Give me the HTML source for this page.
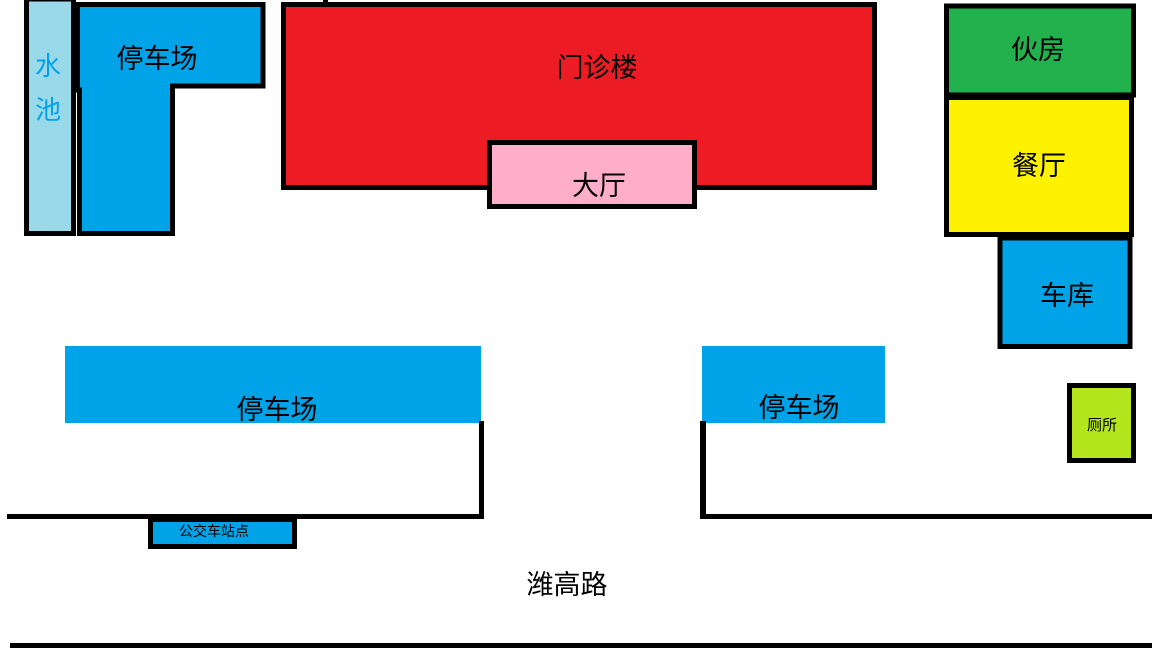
<!DOCTYPE html>
<html><head><meta charset="utf-8"><style>
html,body{margin:0;padding:0;background:#fff;}
svg{display:block;}
text{font-family:"Liberation Sans","Noto Sans CJK SC",sans-serif;fill:#000;}
</style></head><body>
<svg width="1152" height="648" viewBox="0 0 1152 648" xmlns="http://www.w3.org/2000/svg">
<rect width="1152" height="648" fill="#fff"/>
<rect x="26.5" y="-1" width="47" height="234.5" fill="#99d9ea" stroke="#000" stroke-width="5"/>
<text x="48" y="75" font-size="26" style="fill:#00a2e8" text-anchor="middle">水</text>
<text x="48" y="119" font-size="26" style="fill:#00a2e8" text-anchor="middle">池</text>
<polygon points="77.5,4.5 263,4.5 263,86 172.5,86 172.5,233.5 79.5,233.5 79.5,90 77.5,90" fill="#00a2e8" stroke="#000" stroke-width="5"/>
<text x="157" y="68" font-size="27" text-anchor="middle">停车场</text>
<rect x="283.5" y="4.5" width="591" height="183" fill="#ed1c24" stroke="#000" stroke-width="5"/>
<rect x="323" y="0" width="5" height="4" fill="#000"/>
<text x="597" y="77" font-size="27" text-anchor="middle">门诊楼</text>
<rect x="489.5" y="142.5" width="205" height="64" fill="#ffaec9" stroke="#000" stroke-width="5"/>
<text x="599" y="195" font-size="27" text-anchor="middle">大厅</text>
<rect x="946.5" y="6" width="187" height="89" fill="#22b14c" stroke="#000" stroke-width="5"/>
<text x="1038" y="59" font-size="27" text-anchor="middle">伙房</text>
<rect x="946.5" y="97.5" width="185" height="137" fill="#fff200" stroke="#000" stroke-width="5"/>
<text x="1039" y="175" font-size="27" text-anchor="middle">餐厅</text>
<rect x="1000" y="238" width="130" height="108.5" fill="#00a2e8" stroke="#000" stroke-width="5"/>
<text x="1067" y="305" font-size="27" text-anchor="middle">车库</text>
<rect x="1069.5" y="385.5" width="64" height="75" fill="#b5e61d" stroke="#000" stroke-width="5"/>
<text x="1102" y="430" font-size="15" text-anchor="middle">厕所</text>
<rect x="65" y="346" width="416" height="77" fill="#00a2e8"/>
<text x="277" y="419" font-size="27" text-anchor="middle">停车场</text>
<rect x="702" y="346" width="183" height="77" fill="#00a2e8"/>
<text x="799" y="417" font-size="27" text-anchor="middle">停车场</text>
<rect x="479" y="421" width="5" height="98" fill="#000"/>
<rect x="7" y="514" width="477" height="5" fill="#000"/>
<rect x="700" y="421" width="6" height="98" fill="#000"/>
<rect x="700" y="514" width="452" height="5" fill="#000"/>
<rect x="10" y="643" width="1142" height="5" fill="#000"/>
<rect x="150.5" y="519.5" width="144" height="27" fill="#00a2e8" stroke="#000" stroke-width="5"/>
<text x="214" y="536" font-size="14" text-anchor="middle">公交车站点</text>
<text x="567" y="594" font-size="27" text-anchor="middle">潍高路</text>
</svg>
</body></html>
